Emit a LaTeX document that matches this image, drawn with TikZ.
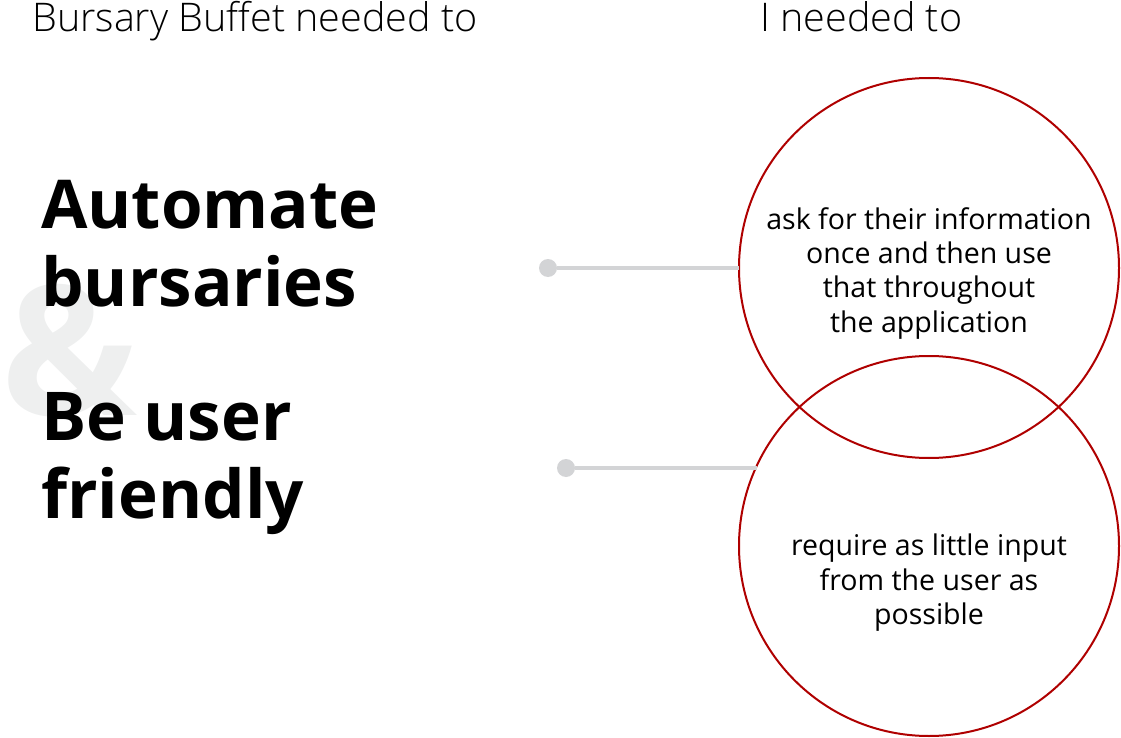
\documentclass[tikz,border=0pt]{standalone}
\usepackage{fontspec}
\setmainfont{Open Sans}
\newfontfamily\lightfont{Open Sans Light}
\usetikzlibrary{positioning}
\definecolor{ringred}{RGB}{175,0,0}
\definecolor{stemgray}{RGB}{211,212,214}
\definecolor{ampgray}{RGB}{238,239,239}

\begin{document}
\begin{tikzpicture}[
  x=0.75pt, y=-0.75pt,
  ring/.style={circle, draw=ringred, line width=1.5pt, minimum size=285pt, inner sep=0pt, outer sep=0pt},
  dot/.style={circle, fill=stemgray, minimum size=13.5pt, inner sep=0pt},
  stem/.style={draw=stemgray, line width=3pt},
  head/.style={font=\lightfont\fontsize{29.6}{34}\selectfont, anchor=base west, inner sep=0pt},
  goal/.style={font=\bfseries\fontsize{50.5}{58.5}\selectfont, align=left, anchor=north west, inner sep=0pt},
  note/.style={font=\fontsize{21.4}{25.8}\selectfont, align=center, anchor=north, inner sep=0pt}
]
\useasboundingbox (0,0) rectangle (1121,738);

% big ampersand behind the goals
\node[font=\bfseries\fontsize{136}{136}\selectfont, text=ampgray, inner sep=0pt] (amp) at (70,351) {\&};

\node[head] (left) at (32,32) {Bursary Buffet needed to};
\node[head] (right) at (760,32) {I needed to};

\node[goal] (auto) at (41,180) {Automate\\bursaries};
\node[goal] (user) at (41,392) {Be user\\friendly};

\node[ring] (c1) at (929,268) {};
\node[ring] (c2) at (929,546) {};

\node[note] (n1) at (929,207) {ask for their information\\once and then use\\that throughout\\the application};
\node[note] (n2) at (929,534) {require as little input\\from the user as\\possible};

\node[dot] (d1) at (548,268) {};
\node[dot] (d2) at (566,468) {};
\draw[stem] (d1) -- (c1);
\draw[stem] (d2) -- (d2 -| c2.155.8);
\end{tikzpicture}
\end{document}
